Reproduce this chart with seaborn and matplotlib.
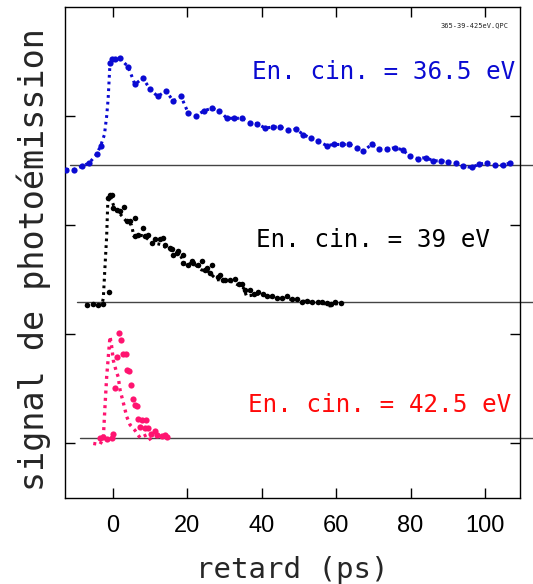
import numpy as np
import pandas as pd
import matplotlib
matplotlib.use("Agg")
import matplotlib.pyplot as plt
import seaborn as sns

# ---------------- data (delay in ps, signal relative to its own baseline) ----
blue_x = [-12.6, -10.5, -8.4, -6.4, -4.4, -3.3, -2.3, -1.7, -1.3, -0.8, -0.3, 0.5, 1.9,
          4.1, 5.9, 8.0, 9.9, 12.0, 14.2, 16.2, 18.3, 20.2, 22.2, 24.5, 26.5, 28.6,
          30.6, 32.5, 34.6, 36.8, 38.8, 40.9, 42.9, 44.9, 47.1, 49.2, 51.2, 53.1,
          55.2, 57.4, 59.4, 61.5, 63.5, 65.5, 67.3, 69.5, 71.6, 73.7, 75.8, 77.9,
          79.8, 81.9, 84.1, 86.1, 88.1, 90.1, 92.2, 94.2, 96.4, 98.5, 100.5, 102.7,
          104.8, 106.7]
blue_s = [-0.04, -0.04, -0.01, 0.02, 0.10, 0.18, 0.28, 0.45, 0.61, 0.94, 0.97, 0.97, 0.98,
          0.90, 0.74, 0.80, 0.70, 0.63, 0.68, 0.59, 0.63, 0.48, 0.45, 0.50, 0.52, 0.50,
          0.43, 0.43, 0.43, 0.39, 0.38, 0.34, 0.35, 0.35, 0.32, 0.33, 0.28, 0.25,
          0.22, 0.18, 0.19, 0.19, 0.19, 0.16, 0.13, 0.19, 0.15, 0.15, 0.16, 0.14,
          0.08, 0.06, 0.07, 0.04, 0.04, 0.03, 0.02, -0.01, -0.02, 0.01, 0.02, 0.0,
          0.0, 0.02]

black_line_x = [-7.5, -6, -4.5, -3, -2.6, -2.2, -1.7, -1.4, -0.8, 0.5, 2, 3.5, 5, 5.6, 7,
                8.5, 10.4, 12, 13.1, 14.9, 16.5, 18, 19.4, 21, 22, 23.8, 25.5, 27.9,
                29.5, 31.5, 33.2, 35, 35.9, 37.7, 39.5, 41.3, 43, 44.5, 46, 48, 50, 52,
                54, 56, 58.3, 60, 61.5]
black_line_s = [-0.03, -0.035, -0.03, -0.03, 0.03, 0.29, 0.6, 0.91, 0.97, 0.85, 0.80,
                0.74, 0.70, 0.60, 0.61, 0.60, 0.54, 0.53, 0.52, 0.48, 0.46, 0.43, 0.34,
                0.35, 0.34, 0.29, 0.28, 0.20, 0.20, 0.19, 0.16, 0.13, 0.05, 0.06, 0.07,
                0.05, 0.04, 0.035, 0.03, 0.02, 0.01, 0.0, -0.01, -0.01, -0.04, -0.02,
                -0.02]
black_dot_x = [-7.0, -5.5, -4.0, -2.8, -1.1, -1.3, -0.8, -0.2, 0.1, 1.0, 1.9, 3.0, 3.7,
               4.6, 5.9, 5.9, 6.8, 8.1, 8.6, 9.5, 10.4, 11.3, 12.6, 13.5, 14.0, 15.3,
               15.8, 16.2, 17.1, 17.6, 18.9, 18.9, 20.2, 21.2, 21.6, 22.9, 23.8, 24.7,
               25.2, 26.1, 26.5, 28.3, 28.8, 29.7, 30.1, 31.5, 32.8, 33.8, 34.6, 35.5,
               36.8, 37.8, 39.1, 40.4, 41.5, 42.7, 44.0, 45.4, 46.7, 48.0, 49.4, 50.7,
               52.1, 53.4, 55.0, 56.2, 57.4, 58.5, 59.7, 61.2]
black_dot_s = [-0.03, -0.025, -0.03, -0.02, 0.085, 0.95, 0.98, 0.98, 0.86, 0.84, 0.83,
               0.87, 0.74, 0.74, 0.77, 0.60, 0.61, 0.67, 0.60, 0.61, 0.54, 0.57, 0.57,
               0.585, 0.52, 0.49, 0.48, 0.43, 0.445, 0.46, 0.43, 0.355, 0.34, 0.37,
               0.355, 0.34, 0.37, 0.29, 0.31, 0.265, 0.34, 0.23, 0.24, 0.20, 0.20, 0.20,
               0.21, 0.16, 0.16, 0.11, 0.11, 0.07, 0.09, 0.07, 0.055, 0.055, 0.035,
               0.035, 0.05, 0.02, 0.025, 0.0, 0.01, -0.005, 0.0, -0.005, -0.01, -0.02,
               -0.005, -0.01]

pink_line_x = [-5.3, -3.5, -2.6, -2.2, -1.7, -1.1, -0.8, -0.4, 0.1, 0.8, 1.4, 1.9, 2.8,
               3.7, 4.6, 5.9, 7.3, 9.1, 10.4]
pink_line_s = [-0.05, -0.06, 0.0, 0.26, 0.56, 0.81, 0.93, 0.85, 0.71, 0.62, 0.56, 0.44,
               0.32, 0.195, 0.12, 0.07, 0.0, 0.03, -0.03]
pink_dot_x = [-3.5, -2.6, -1.7, -0.4, 0.1, 0.5, 1.2, 1.7, 2.2, 2.8, 3.4, 3.7, 4.3, 4.8,
              5.3, 5.9, 6.4, 6.8, 7.7, 8.9, 7.3, 8.6, 9.5, 10.1, 11.3, 11.9, 13.1, 14.0,
              14.4]
pink_dot_s = [0.0, 0.005, -0.01, 0.0, 0.04, 0.46, 0.74, 0.96, 0.90, 0.77, 0.77, 0.62,
              0.61, 0.49, 0.355, 0.30, 0.29, 0.17, 0.165, 0.165, 0.10, 0.09, 0.09, 0.04,
              0.06, 0.03, 0.02, 0.03, 0.01]

labels = ["En. cin. = 36.5 eV", "En. cin. = 39 eV", "En. cin. = 42.5 eV"]
offsets = [3.05, 1.80, 0.55]
x_ticks = [0, 20, 40, 60, 80, 100]
y_ticks = [0.5, 1.5, 2.5, 3.5]

# ---------------- styling ----------------
BLUE = "#0a0ad2"
BLACK = "#000000"
PINK = "#ff1470"
RED = "#ff0a0a"
MONO = ["DejaVu Sans Mono"]

sns.set_theme(style="white")
plt.rcParams["font.family"] = ["DejaVu Sans"]

fig = plt.figure(figsize=(5.33, 5.84), dpi=100)
ax = fig.add_axes([65 / 533, 1 - 498 / 584, 455 / 533, 491 / 584])

dot_ls = (0, (0.9, 1.3))


def line(xs, ss, off, color, lw=2.2):
    df = pd.DataFrame({"x": xs, "y": np.array(ss) + off})
    sns.lineplot(data=df, x="x", y="y", ax=ax, sort=False, estimator=None,
                 color=color, lw=lw, linestyle=dot_ls)


def dots(xs, ss, off, color, size=18):
    df = pd.DataFrame({"x": xs, "y": np.array(ss) + off})
    sns.scatterplot(data=df, x="x", y="y", ax=ax, color=color, s=size,
                    linewidth=0, zorder=3)


# baselines
for off, start in zip(offsets, [0.01, 0.026, 0.033]):
    ax.axhline(off, xmin=start, xmax=1.03, color="#444444", lw=1.0, clip_on=False,
               zorder=1)

# blue trace
line(blue_x, blue_s, offsets[0], BLUE)
bx = [x for x, s in zip(blue_x, blue_s) if not (-2.5 < x < -0.9)]
bs = [s for x, s in zip(blue_x, blue_s) if not (-2.5 < x < -0.9)]
dots(bx, bs, offsets[0], BLUE, 20)

# black trace
line(black_line_x, black_line_s, offsets[1], BLACK)
dots(black_dot_x, black_dot_s, offsets[1], BLACK, 16)

# pink trace
line(pink_line_x, pink_line_s, offsets[2], PINK, lw=2.4)
dots(pink_dot_x, pink_dot_s, offsets[2], PINK, 20)

ax.set_xlim(-12.9, 109.4)
ax.set_ylim(0, 4.5)
ax.set_xticks(x_ticks)
ax.set_yticks(y_ticks)
ax.set_yticklabels([])
ax.tick_params(axis="x", direction="in", length=7, width=1, top=True, bottom=True,
               labelsize=17, pad=12, colors="black")
ax.tick_params(axis="y", direction="in", length=7, width=1, left=True, right=True,
               colors="black")
for lab in ax.get_xticklabels():
    lab.set_family(["Liberation Sans"])
for sp in ax.spines.values():
    sp.set_visible(True)
    sp.set_color("black")
    sp.set_linewidth(1.0)

ax.set_xlabel("retard (ps)", family=MONO, fontsize=21, labelpad=14)
ax.set_ylabel("signal de photoémission", family=MONO, fontsize=24)
ax.yaxis.set_label_coords(-0.03, 0.485)

# annotations
ax.text(0.99, (498 - 72) / 491, labels[0], transform=ax.transAxes, ha="right",
        va="center", color=BLUE, family=MONO, fontsize=17.5)
ax.text(0.935, (498 - 240) / 491, labels[1], transform=ax.transAxes, ha="right",
        va="center", color=BLACK, family=MONO, fontsize=17.5)
ax.text(0.98, (498 - 405) / 491, labels[2], transform=ax.transAxes, ha="right",
        va="center", color=RED, family=MONO, fontsize=17.5)
ax.text(0.975, (498 - 25) / 491, "365-39-425eV.QPC", transform=ax.transAxes,
        ha="right", va="center", color="#222222", family=MONO, fontsize=5)

fig.savefig("out.png", dpi=100)
